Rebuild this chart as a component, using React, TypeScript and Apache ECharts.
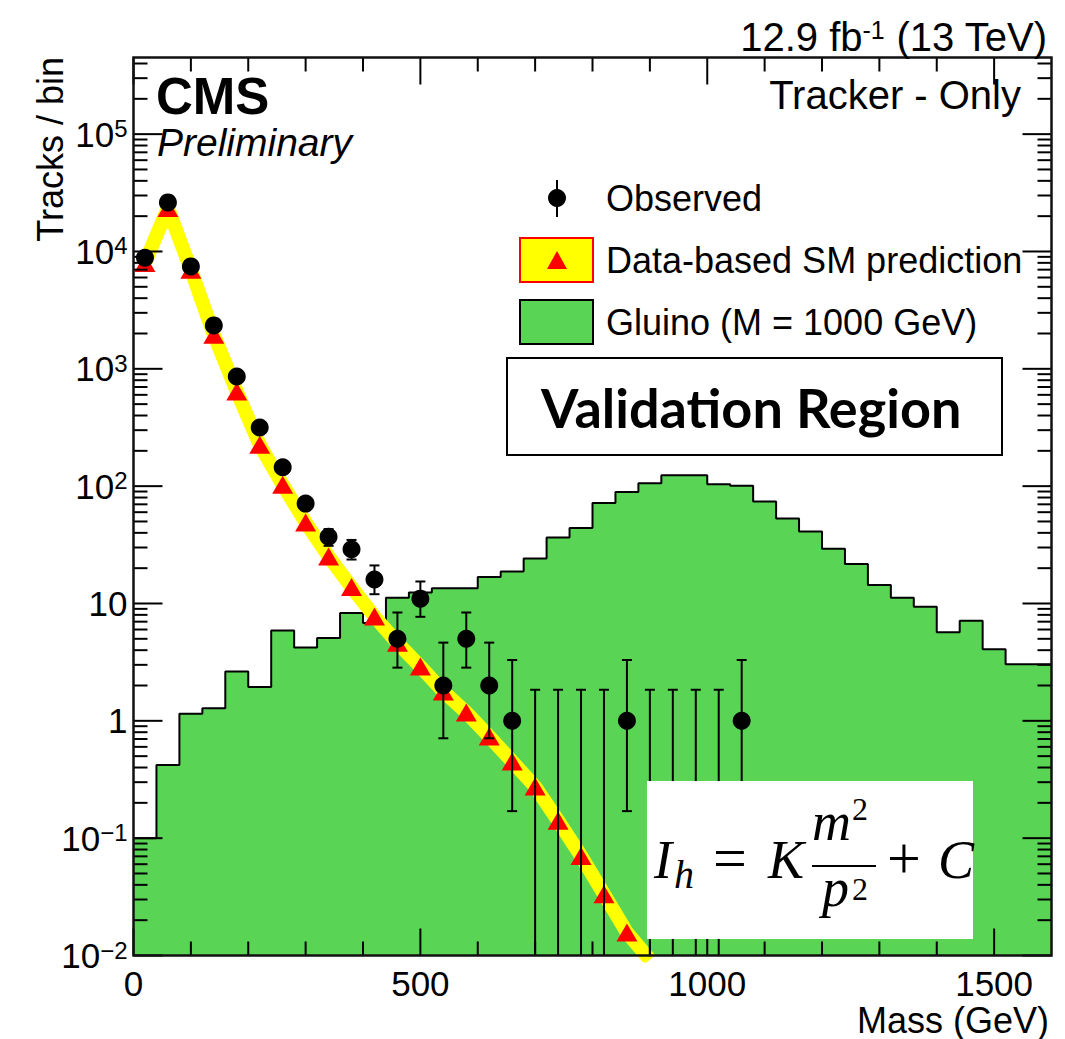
import React, { useEffect, useRef } from 'react';
import * as echarts from 'echarts';

// ---------- data ----------
const obsMass = [20, 60, 100, 140, 180, 220, 260, 300, 340, 380, 420, 460, 500, 540, 580, 620, 660, 700, 740, 780, 820, 860, 900, 940, 980, 1020, 1060];
const obsCounts = [8850, 26200, 7460, 2345, 861, 316, 145, 71, 37, 29, 16, 5, 11, 2, 5, 2, 1, 0, 0, 0, 0, 1, 0, 0, 0, 0, 1];
const obsErrLow = [8756, 26038, 7374, 2297, 832, 298, 133, 62.6, 31, 23.7, 12.0, 2.84, 7.7, 0.71, 2.84, 0.71, 0.17, 0, 0, 0, 0, 0.17, 0, 0, 0, 0, 0.17];
const obsErrHigh = [8944, 26362, 7546, 2394, 891, 334, 158, 80.5, 43.1, 34.8, 21.1, 8.38, 15.4, 4.64, 8.38, 4.64, 3.30, 1.84, 1.84, 1.84, 1.84, 3.30, 1.84, 1.84, 1.84, 1.84, 3.30];

const predMass = [20, 60, 100, 140, 180, 220, 260, 300, 340, 380, 420, 460, 500, 540, 580, 620, 660, 700, 740, 780, 820, 860, 900];
const predicted = [7980, 23500, 7000, 1955, 641, 225, 102.8, 49.1, 25.2, 13.8, 7.75, 4.62, 2.90, 1.78, 1.18, 0.735, 0.45, 0.275, 0.141, 0.0706, 0.0333, 0.0157, 0.0092];

const gluinoEdges = [0, 40, 80, 120, 160, 200, 240, 280, 320, 360, 400, 440, 480, 520, 560, 600, 640, 680, 720, 760, 800, 840, 880, 920, 960, 1000, 1040, 1080, 1120, 1160, 1200, 1240, 1280, 1320, 1360, 1400, 1440, 1480, 1520, 1560, 1600];
const gluino = [0.1, 0.42, 1.15, 1.28, 2.63, 1.94, 5.89, 4.22, 5.07, 8.28, 6.81, 11.2, 12.4, 13.5, 13.5, 16.8, 18.7, 24.2, 36.5, 44.0, 71.8, 89.1, 106, 124, 124, 104, 101, 74.1, 53.1, 41.1, 29.3, 21.7, 14.4, 11.2, 9.37, 5.70, 7.12, 4.08, 3.04, 3.04];

const xLabelTicks = [0, 500, 1000, 1500];
const xMinorTicks = [100, 200, 300, 400, 600, 700, 800, 900, 1100, 1200, 1300, 1400];
const yDecades = [0.01, 0.1, 1, 10, 100, 1000, 10000, 100000];
const yMultipliers = [2, 3, 4, 5, 6, 7, 8, 9];

const X_MIN = 0;
const X_MAX = 1600;
const Y_MIN = 0.01;
const Y_MAX = 4.5e5;

const SANS = '"Liberation Sans", Arial, Helvetica, sans-serif';
const SERIF = '"Liberation Serif", "Times New Roman", serif';
const GREEN = '#5ad455';

export default function App() {
  const ref = useRef<HTMLDivElement>(null);

  useEffect(() => {
    document.body.style.margin = '0';
    if (!ref.current) return;
    const chart = echarts.init(ref.current, undefined, { renderer: 'svg' });

    const gluinoData = gluinoEdges.map((e, i) => [e, gluino[Math.min(i, gluino.length - 1)]]);
    const predData = predMass.map((m, i) => [m, predicted[i]]);
    const triData = predData.filter((d) => d[1] >= Y_MIN);
    const obsData = obsMass.map((m, i) => [m, obsCounts[i]]).filter((d) => d[1] > 0);
    const errData = obsMass.map((m, i) => [m, obsErrLow[i], obsErrHigh[i]]);

    const yMinor: number[] = [];
    yDecades.forEach((d) => yMultipliers.forEach((k) => { if (d * k < Y_MAX) yMinor.push(d * k); }));

    const tickData = [
      ...xLabelTicks.map((v) => [v, 1, 0]),
      ...xMinorTicks.map((v) => [v, 1, 1]),
      ...yDecades.map((v) => [0, v, 2]),
      ...yMinor.map((v) => [0, v, 3]),
      [0, 1, 4],
    ];

    const lineEl = (x1: number, y1: number, x2: number, y2: number, w = 2) => ({
      type: 'line',
      shape: { x1, y1, x2, y2 },
      style: { stroke: '#000', lineWidth: w },
    });

    const tickRender = (params: any, api: any) => {
      const cs = params.coordSys;
      const kind = api.value(2);
      const bottom = cs.y + cs.height;
      const right = cs.x + cs.width;
      if (kind === 4) {
        return {
          type: 'rect',
          shape: { x: cs.x, y: cs.y, width: cs.width, height: cs.height },
          style: { fill: 'none', stroke: '#111', lineWidth: 2.5 },
        };
      }
      if (kind <= 1) {
        const px = api.coord([api.value(0), 1])[0];
        const len = kind === 0 ? 27 : 14;
        return {
          type: 'group',
          children: [lineEl(px, bottom, px, bottom - len), lineEl(px, cs.y, px, cs.y + len)],
        };
      }
      const py = api.coord([0, api.value(1)])[1];
      const len = kind === 2 ? 29 : 14;
      return {
        type: 'group',
        children: [lineEl(cs.x, py, cs.x + len, py), lineEl(right, py, right - len, py)],
      };
    };

    const errRender = (params: any, api: any) => {
      const cs = params.coordSys;
      const bottom = cs.y + cs.height;
      const x = api.value(0);
      const lo = api.value(1);
      const hi = api.value(2);
      const top = api.coord([x, hi]);
      let loY = lo > 0 ? api.coord([x, lo])[1] : bottom;
      const clamped = loY >= bottom;
      loY = Math.min(loY, bottom);
      const cap = 5;
      const children: any[] = [
        lineEl(top[0], top[1], top[0], loY),
        lineEl(top[0] - cap, top[1], top[0] + cap, top[1]),
      ];
      if (!clamped) children.push(lineEl(top[0] - cap, loY, top[0] + cap, loY));
      return { type: 'group', children };
    };

    const yLabel = (v: number) => {
      const e = Math.log10(v);
      const r = Math.round(e);
      if (Math.abs(e - r) > 1e-6) return '';
      if (r === 0) return '{b|1}';
      if (r === 1) return '{b|10}';
      return '{b|10}{s|' + (r < 0 ? '\u2212' + -r : String(r)) + '}';
    };

    const txt = (text: string, x: number, y: number, extra: any = {}, z = 100) => ({
      type: 'text',
      x,
      y,
      z,
      style: {
        text,
        fill: '#000',
        font: `36px ${SANS}`,
        verticalAlign: 'middle',
        align: 'left',
        ...extra,
      },
    });

    const FB = 878; // formula baseline
    const formula = [
      { type: 'rect', z: 100, shape: { x: 647, y: 781, width: 326, height: 158 }, style: { fill: '#fff' } },
      txt('I', 654, FB - 18, { font: `italic 54px ${SERIF}` }, 101),
      txt('h', 674, 887 - 13, { font: `italic 40px ${SERIF}` }, 101),
      txt('=', 713, FB - 20, { font: `60px ${SERIF}` }, 101),
      txt('K', 768, FB - 18, { font: `italic 54px ${SERIF}` }, 101),
      txt('m', 812, 840 - 18, { font: `italic 54px ${SERIF}` }, 101),
      txt('2', 852, 820 - 11, { font: `32px ${SERIF}` }, 101),
      { type: 'line', z: 101, shape: { x1: 812, y1: 866, x2: 876, y2: 866 }, style: { stroke: '#000', lineWidth: 2 } },
      txt('p', 822, 906 - 18, { font: `italic 54px ${SERIF}` }, 101),
      txt('2', 852, 900 - 11, { font: `32px ${SERIF}` }, 101),
      txt('+', 887, FB - 20, { font: `60px ${SERIF}` }, 101),
      txt('C', 938, FB - 18, { font: `italic 54px ${SERIF}` }, 101),
    ];

    const option: any = {
      animation: false,
      backgroundColor: '#fff',
      grid: { left: 133.5, top: 57.5, width: 918, height: 898, containLabel: false, show: false },
      xAxis: {
        type: 'value',
        min: X_MIN,
        max: X_MAX,
        interval: 500,
        axisLine: { show: false },
        axisTick: { show: false },
        splitLine: { show: false },
        axisLabel: {
          margin: 12,
          color: '#000',
          fontSize: 35,
          lineHeight: 32,
          fontFamily: SANS,
          formatter: (v: number) => (xLabelTicks.includes(v) ? String(v) : ''),
        },
      },
      yAxis: {
        type: 'log',
        logBase: 10,
        min: Y_MIN,
        max: Y_MAX,
        interval: 1,
        axisLine: { show: false },
        axisTick: { show: false },
        splitLine: { show: false },
        axisLabel: {
          margin: 6,
          formatter: yLabel,
          rich: {
            b: { fontSize: 35, fontFamily: SANS, color: '#000' },
            s: { fontSize: 24, fontFamily: SANS, color: '#000', verticalAlign: 'top' },
          },
        },
      },
      series: [
        {
          type: 'line',
          name: 'Gluino (M = 1000 GeV)',
          data: gluinoData,
          step: 'end',
          symbol: 'none',
          lineStyle: { color: '#000', width: 2 },
          areaStyle: { color: GREEN, opacity: 1, origin: 'start' },
          z: 1,
          silent: true,
        },
        {
          type: 'line',
          name: 'SM band',
          data: predData,
          symbol: 'none',
          lineStyle: { color: '#ffff00', width: 14 },
          z: 3,
          silent: true,
        },
        {
          type: 'scatter',
          name: 'Data-based SM prediction',
          data: triData,
          symbol: 'triangle',
          symbolSize: [21, 18],
          itemStyle: { color: '#ff0000', opacity: 1 },
          z: 4,
        },
        {
          type: 'custom',
          name: 'Observed errors',
          renderItem: errRender,
          data: errData,
          encode: { x: 0, y: 2 },
          z: 5,
          silent: true,
        },
        {
          type: 'scatter',
          name: 'Observed',
          data: obsData,
          symbol: 'circle',
          symbolSize: 18,
          itemStyle: { color: '#000', opacity: 1 },
          z: 6,
        },
        {
          type: 'custom',
          name: 'ticks',
          renderItem: tickRender,
          data: tickData,
          encode: { x: 0, y: 1 },
          z: 10,
          silent: true,
        },
      ],
      graphic: [
        txt('{a|12.9 fb}{s|-1}{a| (13 TeV)}', 1047, 37, {
          align: 'right',
          rich: {
            a: { fontSize: 40, fontFamily: SANS, fill: '#000', color: '#000' },
            s: { fontSize: 25, fontFamily: SANS, fill: '#000', color: '#000', verticalAlign: 'top' },
          },
        }),
        txt('CMS', 156, 96, { font: `bold 51px ${SANS}`, lineHeight: 44 }),
        txt('Preliminary', 157, 142, { font: `italic 39px ${SANS}`, lineHeight: 34 }),
        txt('Tracker - Only', 1021, 95, { align: 'right', font: `40px ${SANS}` }),
        // legend
        { type: 'line', z: 100, shape: { x1: 557, y1: 180, x2: 557, y2: 217 }, style: { stroke: '#000', lineWidth: 2 } },
        { type: 'circle', z: 100, shape: { cx: 557, cy: 198, r: 9 }, style: { fill: '#000' } },
        txt('Observed', 606, 198),
        { type: 'rect', z: 100, shape: { x: 520, y: 238, width: 73, height: 44 }, style: { fill: '#ffff00', stroke: '#ff0000', lineWidth: 2 } },
        { type: 'polygon', z: 101, shape: { points: [[547, 269], [567, 269], [557, 251]] }, style: { fill: '#ff0000' } },
        txt('Data-based SM prediction', 606, 260),
        { type: 'rect', z: 100, shape: { x: 520, y: 300, width: 73, height: 44 }, style: { fill: GREEN, stroke: '#000', lineWidth: 2 } },
        txt('Gluino (M = 1000 GeV)', 606, 322),
        // validation box
        { type: 'rect', z: 100, shape: { x: 507, y: 358, width: 495, height: 97 }, style: { fill: '#fff', stroke: '#000', lineWidth: 2 } },
        txt('Validation Region', 541, 407, { font: `bold 54px Lato, ${SANS}` }, 101),
        // formula box
        ...formula,
        // axis titles
        { ...txt('Tracks / bin', 50, 57, { align: 'right' }), rotation: Math.PI / 2 },
        txt('Mass (GeV)', 1049, 1020, { align: 'right', lineHeight: 30 }),
      ],
    };

    chart.setOption(option);
    return () => chart.dispose();
  }, []);

  return <div ref={ref} style={{ width: 1065, height: 1039 }} />;
}
